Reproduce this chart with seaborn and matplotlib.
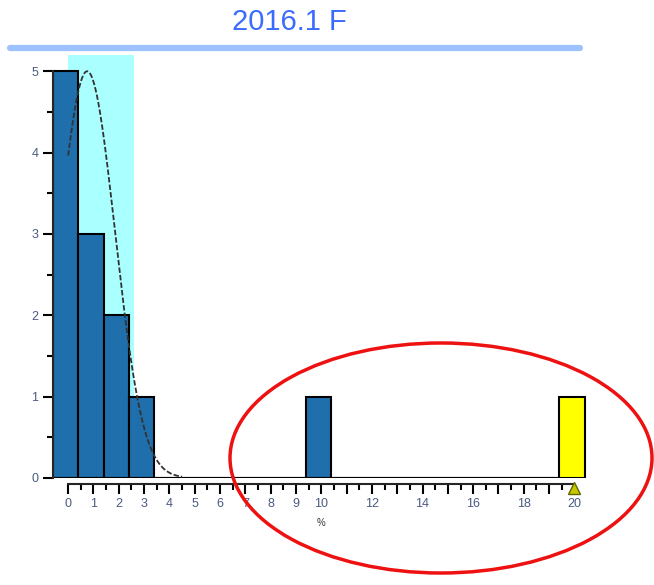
import numpy as np
import pandas as pd
import matplotlib
matplotlib.use('Agg')
import matplotlib.pyplot as plt
from matplotlib.patches import Ellipse
from matplotlib.lines import Line2D
import seaborn as sns

# data
bin_lefts = [-0.6, 0.4, 1.4, 2.4, 9.4]
counts = [5, 3, 2, 1, 1]
flag_left = [19.4]
flag_count = [1]
# fitted normal curve (peak height, mean, sd) and shaded band
fit_peak, fit_mean, fit_sd = 5.0, 0.75, 1.1
band = (0.0, 2.6)
x_labels = [0, 1, 2, 3, 4, 5, 6, 7, 8, 9, 10, 12, 14, 16, 18, 20]
title = '2016.1 F'

sns.set_style('ticks')
plt.rcParams['font.family'] = ['Liberation Sans', 'DejaVu Sans']

fig = plt.figure(figsize=(6.54, 5.85), dpi=100)
ax = fig.add_axes([0.081, 0.183, 0.836, 0.723])

ax.axvspan(band[0], band[1], color='#aaffff', zorder=0, lw=0)

edges = list(np.arange(-0.6, 21, 1.0))
df = pd.DataFrame({'x': np.array(bin_lefts) + 0.5, 'n': counts})
df_flag = pd.DataFrame({'x': np.array(flag_left) + 0.5, 'n': flag_count})
sns.histplot(data=df, x='x', weights='n', bins=edges, ax=ax,
             color='#1f6fad', alpha=1, edgecolor='black', linewidth=1.5, zorder=2)
sns.histplot(data=df_flag, x='x', weights='n', bins=edges, ax=ax,
             color='#ffff00', alpha=1, edgecolor='black', linewidth=1.5, zorder=2)

xs = np.linspace(0, 4.5, 200)
ys = fit_peak * np.exp(-0.5 * ((xs - fit_mean) / fit_sd) ** 2)
ax.plot(xs, ys, color='#333333', lw=1.3, ls=(0, (3, 1.2)), zorder=3)

ax.plot([20], [-0.12], marker='^', ms=9, color='#c8c800', mec='#666600',
        clip_on=False, zorder=4)

ax.set_xlim(-0.6, 21)
ax.set_ylim(0, 5.2)
ax.set_ylabel('')
ax.set_xlabel('%', fontsize=7, color='#333333')
ax.xaxis.set_label_coords(10.6 / 21.6, -0.095)

ax.set_xticks(np.arange(0, 21, 1))
ax.set_xticks(np.arange(0.5, 20, 1), minor=True)
ax.set_xticklabels([str(v) if v in x_labels else '' for v in range(21)])
ax.set_yticks(range(6))
ax.set_yticks(np.arange(0.5, 5, 1), minor=True)

tick_col = '#4a5a80'
ax.tick_params(axis='both', which='major', length=7, width=1.5, colors='black',
               labelcolor=tick_col, labelsize=9)
ax.tick_params(axis='both', which='minor', length=4, width=1.5, colors='black')

for s in ['top', 'right']:
    ax.spines[s].set_visible(False)
ax.spines['left'].set_bounds(0, 5)
ax.spines['left'].set_linewidth(1.5)
ax.spines['bottom'].set_position(('outward', 4))
ax.spines['bottom'].set_bounds(0, 20)
ax.spines['bottom'].set_linewidth(1.5)

fig.text(0.443, 0.962, title, color='#3a6bff', fontsize=21, ha='center', va='center')
fig.add_artist(Line2D([10 / 654, 580 / 654], [0.918, 0.918], color='#9cc2ff', lw=4.5))

fig.add_artist(Ellipse((441 / 654, (585 - 458) / 585), 422 / 654, 230 / 585,
                       fill=False, edgecolor='#ee1111', lw=2.5))

fig.savefig('out.png', dpi=100)
